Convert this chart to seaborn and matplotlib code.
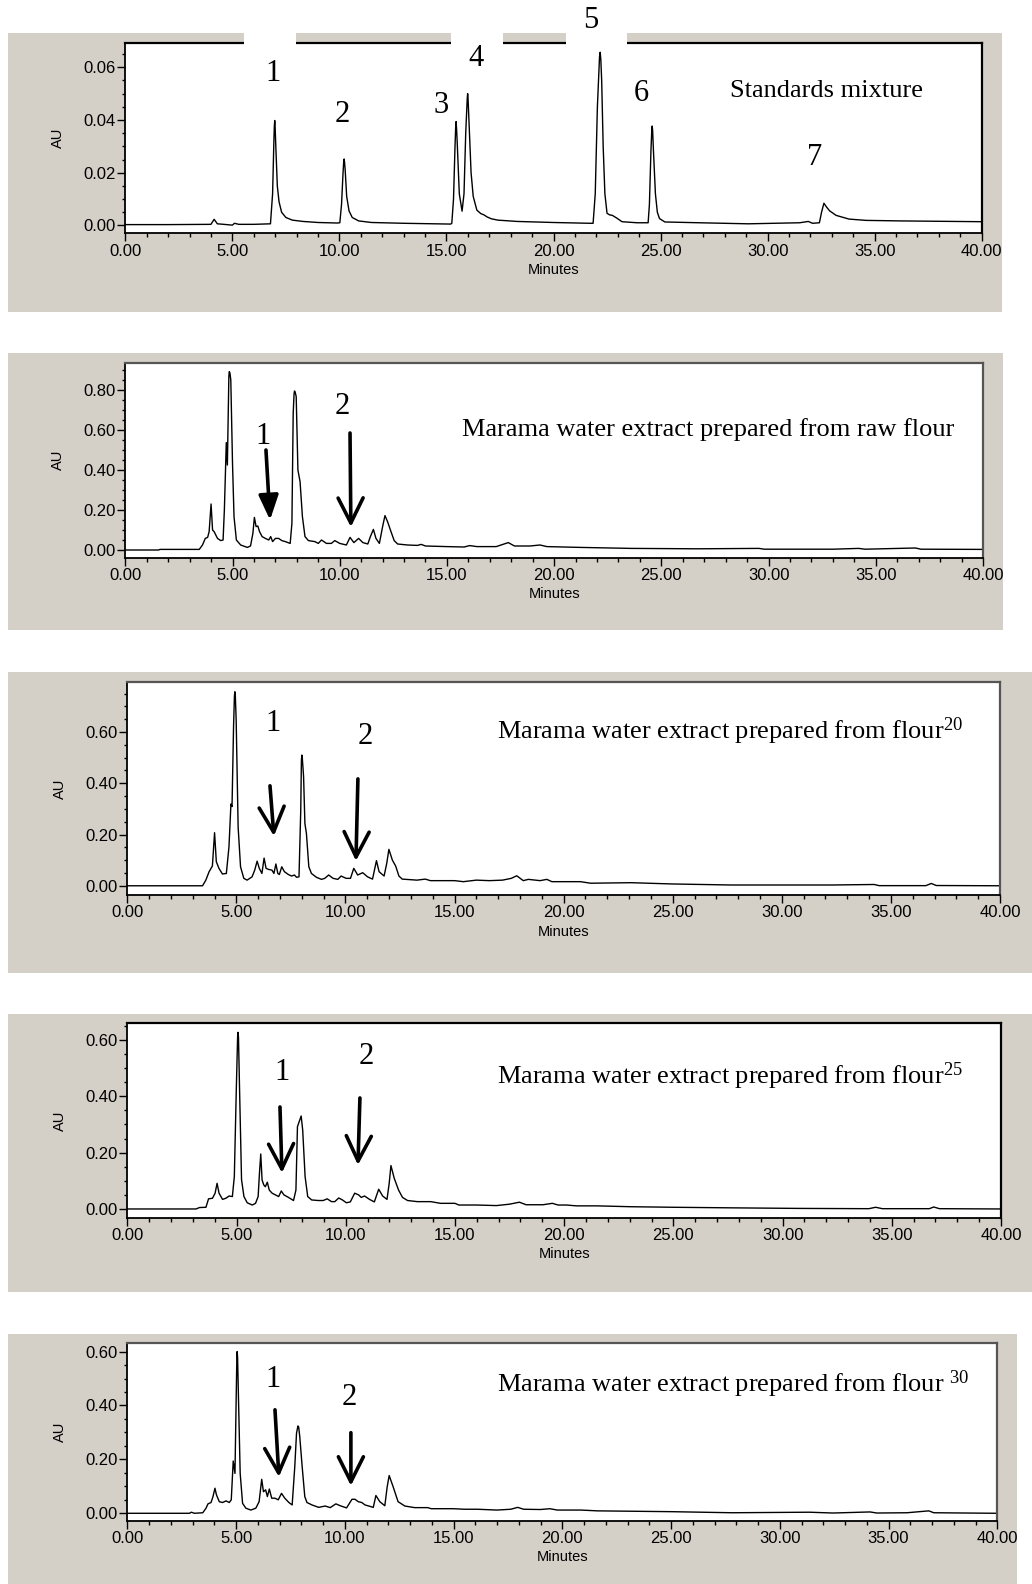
import numpy as np
import pandas as pd
import matplotlib
matplotlib.use("Agg")
import matplotlib.pyplot as plt
import seaborn as sns
from matplotlib.patches import Rectangle
from matplotlib.ticker import MultipleLocator, FormatStrFormatter

# ---------------- data ----------------
std_time = [0.0, 2.0, 4.0, 4.15, 4.3, 4.6, 5.0, 5.1, 5.3, 6.0, 6.78, 6.88, 6.94, 6.96, 6.98, 7.00, 7.03, 7.10,
            7.18, 7.30, 7.50, 7.80, 8.3, 9.0, 9.9, 10.02, 10.10, 10.17, 10.20, 10.22, 10.24, 10.27, 10.34,
            10.45, 10.6, 10.9, 11.5, 13.0, 15.2, 15.25, 15.33, 15.40, 15.43, 15.45, 15.47, 15.50, 15.60,
            15.73, 15.82, 15.90, 15.97, 15.99, 16.01, 16.05, 16.15, 16.25, 16.42, 16.6, 16.75, 16.9, 17.1,
            17.4, 18.3, 20.0, 21.7, 21.85, 21.95, 22.05, 22.15, 22.18, 22.21, 22.25, 22.32, 22.40, 22.50,
            22.62, 22.75, 22.95, 23.2, 23.9, 24.42, 24.48, 24.55, 24.59, 24.61, 24.63, 24.67, 24.76, 24.85,
            24.95, 25.2, 26.8, 29.1, 31.5, 31.9, 32.1, 32.42, 32.52, 32.63, 32.75, 32.9, 33.2, 33.8, 34.6,
            36.2, 40.0]
std_au = [0.0003, 0.0003, 0.0004, 0.0023, 0.0006, 0.0004, 0.0001, 0.0008, 0.0004, 0.0004, 0.0006, 0.012,
          0.032, 0.0375, 0.0398, 0.037, 0.030, 0.015, 0.009, 0.0050, 0.0030, 0.0020, 0.0015, 0.0011,
          0.0009, 0.0010, 0.008, 0.020, 0.024, 0.0252, 0.024, 0.021, 0.011, 0.0055, 0.0030, 0.0017,
          0.0011, 0.0008, 0.0005, 0.0008, 0.010, 0.030, 0.037, 0.0394, 0.037, 0.032, 0.012, 0.0054, 0.012,
          0.035, 0.048, 0.050, 0.048, 0.040, 0.020, 0.0110, 0.0058, 0.0045, 0.0040, 0.0032, 0.0025,
          0.0020, 0.0015, 0.0011, 0.0008, 0.0008, 0.012, 0.045, 0.064, 0.0657, 0.063, 0.055, 0.030, 0.012,
          0.0046, 0.0040, 0.0038, 0.0028, 0.0014, 0.0010, 0.0010, 0.008, 0.028, 0.036, 0.0377, 0.036,
          0.028, 0.012, 0.005, 0.0026, 0.0013, 0.0010, 0.0006, 0.0010, 0.0015, 0.0008, 0.0010, 0.005,
          0.0084, 0.0070, 0.0055, 0.0038, 0.0024, 0.0019, 0.0017, 0.0014]

raw_time = [0.0, 1.55, 1.62, 3.45, 3.6, 3.73, 3.84, 3.91, 4.00, 4.07, 4.14, 4.30, 4.45, 4.56, 4.62, 4.71,
            4.76, 4.83, 4.85, 4.88, 4.92, 5.00, 5.07, 5.18, 5.38, 5.69, 5.84, 5.95, 6.02, 6.10, 6.18, 6.26,
            6.38, 6.53, 6.69, 6.78, 6.87, 7.00, 7.15, 7.30, 7.46, 7.69, 7.77, 7.83, 7.87, 7.89, 7.92, 7.97,
            8.05, 8.15, 8.26, 8.38, 8.54, 8.84, 9.00, 9.15, 9.38, 9.61, 9.77, 10.00, 10.31, 10.48, 10.66,
            10.88, 11.08, 11.31, 11.43, 11.57, 11.69, 11.85, 12.00, 12.11, 12.23, 12.39, 12.54, 12.70,
            13.16, 13.62, 13.80, 14.00, 15.00, 15.80, 16.06, 16.40, 17.30, 17.86, 18.15, 18.87, 19.34,
            19.66, 21.2, 23.6, 26.7, 29.55, 29.8, 33.0, 34.2, 34.5, 36.85, 37.1, 40.0]
raw_au = [0.0, 0.0, 0.003, 0.003, 0.025, 0.058, 0.063, 0.092, 0.230, 0.100, 0.092, 0.058, 0.047, 0.050,
          0.200, 0.537, 0.425, 0.870, 0.892, 0.885, 0.850, 0.433, 0.167, 0.050, 0.025, 0.013, 0.020,
          0.083, 0.163, 0.117, 0.120, 0.092, 0.067, 0.058, 0.050, 0.067, 0.042, 0.058, 0.058, 0.047,
          0.042, 0.033, 0.133, 0.683, 0.780, 0.795, 0.790, 0.767, 0.400, 0.342, 0.167, 0.067, 0.047,
          0.042, 0.033, 0.050, 0.033, 0.033, 0.047, 0.033, 0.025, 0.063, 0.037, 0.058, 0.037, 0.030,
          0.067, 0.103, 0.058, 0.033, 0.117, 0.172, 0.142, 0.092, 0.047, 0.030, 0.025, 0.023, 0.028,
          0.020, 0.017, 0.015, 0.022, 0.017, 0.017, 0.037, 0.020, 0.020, 0.025, 0.017, 0.013, 0.008,
          0.006, 0.008, 0.004, 0.004, 0.008, 0.004, 0.010, 0.004, 0.003]

f20_time = [0.0, 3.45, 3.6, 3.75, 3.9, 4.0, 4.08, 4.2, 4.36, 4.54, 4.66, 4.75, 4.80, 4.87, 4.91, 4.93, 4.95,
            4.99, 5.08, 5.19, 5.34, 5.49, 5.72, 5.84, 5.95, 6.05, 6.17, 6.27, 6.36, 6.47, 6.63, 6.72, 6.81,
            6.90, 6.97, 7.08, 7.20, 7.38, 7.53, 7.66, 7.76, 7.87, 7.95, 7.98, 8.00, 8.02, 8.08, 8.14, 8.21,
            8.32, 8.44, 8.67, 8.90, 9.05, 9.23, 9.43, 9.65, 9.80, 10.03, 10.23, 10.38, 10.56, 10.79, 11.01,
            11.24, 11.42, 11.54, 11.77, 11.89, 11.99, 12.15, 12.30, 12.45, 12.60, 13.28, 13.66, 13.89,
            15.0, 15.4, 16.0, 16.6, 17.2, 17.6, 17.85, 18.15, 18.38, 18.92, 19.23, 19.46, 20.77, 21.23,
            23.08, 25.0, 27.7, 32.3, 34.23, 34.46, 36.6, 36.85, 37.08, 40.0]
f20_au = [0.0, 0.0, 0.022, 0.055, 0.077, 0.207, 0.094, 0.068, 0.046, 0.048, 0.152, 0.319, 0.309, 0.621,
          0.740, 0.757, 0.745, 0.646, 0.229, 0.074, 0.029, 0.022, 0.035, 0.061, 0.096, 0.068, 0.048,
          0.108, 0.068, 0.064, 0.061, 0.048, 0.085, 0.048, 0.044, 0.074, 0.055, 0.044, 0.038, 0.042,
          0.033, 0.035, 0.295, 0.490, 0.510, 0.500, 0.426, 0.243, 0.204, 0.074, 0.048, 0.033, 0.025,
          0.029, 0.042, 0.029, 0.025, 0.038, 0.029, 0.029, 0.068, 0.042, 0.051, 0.035, 0.026, 0.098,
          0.055, 0.038, 0.087, 0.142, 0.100, 0.077, 0.038, 0.026, 0.022, 0.026, 0.020, 0.020, 0.016,
          0.022, 0.020, 0.022, 0.029, 0.039, 0.020, 0.025, 0.020, 0.025, 0.016, 0.016, 0.010, 0.012,
          0.007, 0.003, 0.003, 0.005, 0.0005, 0.0005, 0.009, 0.001, 0.0]

f25_time = [0.0, 3.15, 3.3, 3.6, 3.72, 3.9, 4.02, 4.11, 4.20, 4.36, 4.51, 4.66, 4.81, 4.90, 4.99, 5.05, 5.07,
            5.09, 5.14, 5.23, 5.34, 5.49, 5.72, 5.87, 5.99, 6.05, 6.11, 6.17, 6.25, 6.32, 6.41, 6.50, 6.63,
            6.78, 6.93, 7.05, 7.17, 7.38, 7.61, 7.72, 7.79, 7.87, 7.96, 8.03, 8.14, 8.26, 8.44, 8.74, 8.97,
            9.15, 9.35, 9.50, 9.68, 9.85, 10.03, 10.21, 10.41, 10.59, 10.71, 10.86, 11.09, 11.31, 11.42,
            11.51, 11.69, 11.89, 11.99, 12.07, 12.22, 12.42, 12.60, 12.83, 13.28, 13.89, 14.34, 15.0,
            15.18, 16.0, 16.9, 17.5, 17.95, 18.26, 19.03, 19.46, 19.72, 20.1, 20.57, 21.5, 23.03, 25.0,
            27.65, 30.7, 33.95, 34.26, 34.57, 36.72, 36.92, 37.18, 40.0]
f25_au = [0.0, 0.0, 0.005, 0.006, 0.036, 0.038, 0.056, 0.091, 0.056, 0.034, 0.038, 0.046, 0.044, 0.115,
          0.423, 0.610, 0.627, 0.610, 0.423, 0.104, 0.044, 0.022, 0.014, 0.020, 0.044, 0.126, 0.195, 0.103,
          0.085, 0.079, 0.095, 0.067, 0.056, 0.050, 0.044, 0.064, 0.050, 0.041, 0.030, 0.067, 0.292,
          0.310, 0.330, 0.280, 0.115, 0.044, 0.032, 0.030, 0.030, 0.036, 0.026, 0.026, 0.039, 0.032,
          0.022, 0.025, 0.056, 0.050, 0.041, 0.046, 0.034, 0.025, 0.050, 0.070, 0.046, 0.034, 0.091,
          0.154, 0.109, 0.067, 0.041, 0.030, 0.026, 0.026, 0.020, 0.020, 0.014, 0.014, 0.012, 0.017,
          0.024, 0.015, 0.015, 0.020, 0.014, 0.014, 0.011, 0.011, 0.008, 0.006, 0.004, 0.002, 0.001,
          0.006, 0.001, 0.001, 0.007, 0.001, 0.0]

f30_time = [0.0, 2.86, 2.94, 3.09, 3.47, 3.62, 3.71, 3.85, 3.94, 4.03, 4.10, 4.23, 4.38, 4.54, 4.69, 4.78,
            4.87, 4.95, 5.02, 5.04, 5.05, 5.07, 5.11, 5.19, 5.30, 5.45, 5.68, 5.91, 6.06, 6.18, 6.26, 6.36,
            6.44, 6.53, 6.64, 6.79, 6.94, 7.09, 7.24, 7.43, 7.58, 7.70, 7.78, 7.83, 7.85, 7.88, 7.93, 8.04,
            8.16, 8.26, 8.49, 8.80, 9.10, 9.33, 9.59, 9.79, 10.08, 10.33, 10.47, 10.62, 10.78, 10.93, 11.31,
            11.43, 11.61, 11.84, 11.95, 12.04, 12.22, 12.45, 12.76, 13.21, 13.82, 13.97, 15.0, 15.49, 16.1,
            17.0, 17.63, 17.95, 18.22, 18.99, 19.43, 19.77, 20.85, 21.62, 25.0, 27.8, 31.36, 32.45, 34.15,
            34.46, 35.85, 36.85, 37.08, 40.0]
f30_au = [0.0, 0.0, 0.004, 0.0, 0.002, 0.019, 0.035, 0.040, 0.062, 0.093, 0.068, 0.043, 0.040, 0.046,
          0.040, 0.050, 0.194, 0.148, 0.495, 0.590, 0.600, 0.580, 0.433, 0.148, 0.037, 0.019, 0.012, 0.019,
          0.043, 0.126, 0.080, 0.087, 0.062, 0.090, 0.056, 0.056, 0.050, 0.074, 0.056, 0.040, 0.031,
          0.173, 0.297, 0.318, 0.324, 0.320, 0.284, 0.173, 0.062, 0.040, 0.031, 0.022, 0.027, 0.021,
          0.035, 0.028, 0.020, 0.052, 0.052, 0.043, 0.040, 0.031, 0.022, 0.066, 0.043, 0.028, 0.099,
          0.140, 0.099, 0.043, 0.027, 0.021, 0.021, 0.017, 0.017, 0.015, 0.015, 0.012, 0.015, 0.022,
          0.015, 0.014, 0.017, 0.012, 0.012, 0.009, 0.006, 0.002, 0.004, 0.001, 0.005, 0.001, 0.002,
          0.009, 0.002, 0.0]

x_ticks = [0, 5, 10, 15, 20, 25, 30, 35, 40]
std_yticks = [0.00, 0.02, 0.04, 0.06]
raw_yticks = [0.00, 0.20, 0.40, 0.60, 0.80]
f_yticks = [0.00, 0.20, 0.40, 0.60]

titles = ["Standards mixture",
          "Marama water extract prepared from raw flour",
          r"Marama water extract prepared from flour$^{\mathrm{20}}$",
          r"Marama water extract prepared from flour$^{\mathrm{25}}$",
          r"Marama water extract prepared from flour $^{\mathrm{30}}$"]

# ---------------- style ----------------
sns.set_theme(style="ticks")
plt.rcParams["font.family"] = ["Liberation Sans", "DejaVu Sans"]
plt.rcParams["mathtext.fontset"] = "custom"
plt.rcParams["mathtext.rm"] = "Liberation Serif"
plt.rcParams["mathtext.it"] = "Liberation Serif:italic"

W, H = 1032, 1584
fig = plt.figure(figsize=(W / 100, H / 100), dpi=100)
fig.patch.set_facecolor("white")
GRAY = "#D4D0C8"
SERIF = ["Liberation Serif", "DejaVu Serif"]


def frac_rect(x0, y0, x1, y1):
    return [x0 / W, 1 - y1 / H, (x1 - x0) / W, (y1 - y0) / H]


def add_box(x0, y0, x1, y1, color, z):
    l, b, w, h = frac_rect(x0, y0, x1, y1)
    fig.add_artist(Rectangle((l, b), w, h, transform=fig.transFigure,
                             facecolor=color, edgecolor="none", zorder=z))


panels = [
    dict(gray=(8, 33, 1002, 312), ax=(125.3, 43.3, 981.7, 233.3), ylim=(-0.0030, 0.0691),
         yt=std_yticks, ym=0.005, t=std_time, v=std_au, sc="black"),
    dict(gray=(8, 353, 1003, 630), ax=(125.3, 362.7, 983, 557.7), ylim=(-0.0385, 0.9365),
         yt=raw_yticks, ym=0.05, t=raw_time, v=raw_au, sc="#555555"),
    dict(gray=(8, 672, 1032, 973), ax=(127.3, 682, 1000, 895), ylim=(-0.036, 0.795),
         yt=f_yticks, ym=0.05, t=f20_time, v=f20_au, sc="#555555"),
    dict(gray=(8, 1014, 1032, 1292), ax=(127.3, 1023.3, 1001, 1217.7), ylim=(-0.031, 0.659),
         yt=f_yticks, ym=0.05, t=f25_time, v=f25_au, sc="black"),
    dict(gray=(8, 1334, 1017, 1584), ax=(127.3, 1342.7, 997.3, 1520.7), ylim=(-0.0275, 0.633),
         yt=f_yticks, ym=0.05, t=f30_time, v=f30_au, sc="#555555"),
]

axes = []
for p in panels:
    add_box(*p["gray"], GRAY, -10)
    ax = fig.add_axes(frac_rect(*p["ax"]))
    ax.set_facecolor("white")
    df = pd.DataFrame({"Minutes": p["t"], "AU": p["v"]})
    sns.lineplot(data=df, x="Minutes", y="AU", ax=ax, color="black", lw=1.0,
                 estimator=None, sort=True)
    ax.set_xlim(0, 40)
    ax.set_ylim(*p["ylim"])
    ax.set_xticks(x_ticks)
    ax.set_yticks(p["yt"])
    ax.xaxis.set_minor_locator(MultipleLocator(1))
    ax.yaxis.set_minor_locator(MultipleLocator(p["ym"]))
    ax.xaxis.set_major_formatter(FormatStrFormatter("%.2f"))
    ax.yaxis.set_major_formatter(FormatStrFormatter("%.2f"))
    ax.tick_params(axis="both", which="both", direction="out", color="black", width=1.0,
                   labelsize=12, labelcolor="black")
    ax.tick_params(axis="y", which="major", length=6, pad=1)
    ax.tick_params(axis="y", which="minor", length=2.5)
    ax.tick_params(axis="x", which="major", length=5.5, pad=2)
    ax.tick_params(axis="x", which="minor", length=3)
    for side in ["left", "bottom"]:
        ax.spines[side].set_color("black")
        ax.spines[side].set_linewidth(1.3)
    for side in ["top", "right"]:
        ax.spines[side].set_color(p["sc"])
        ax.spines[side].set_linewidth(1.6)
    ax.set_xlabel("Minutes", fontsize=10.5, labelpad=3, color="black")
    ax.set_ylabel("AU", fontsize=10.5, labelpad=13, color="black")
    axes.append(ax)

# ---------------- annotations ----------------
lab_kw = dict(fontsize=22, family=SERIF, ha="center", va="center", color="black", clip_on=False)
title_kw = dict(fontsize=19, family=SERIF, va="center", color="black")

# panel 1: standards
ax = axes[0]
std_labels = [("1", 6.9, 0.0578), ("2", 10.12, 0.0419), ("3", 14.75, 0.0456), ("4", 16.38, 0.0632),
              ("5", 21.75, 0.0776), ("6", 24.09, 0.0502), ("7", 32.2, 0.0259)]
for s, x, y in std_labels:
    ax.text(x, y, s, zorder=20, **lab_kw)
ax.text(32.73, 0.051, titles[0], ha="center", **title_kw)
# white gaps around labels that cross the top frame
for gx0, gx1 in [(244, 296), (451, 503), (566, 627)]:
    add_box(gx0, 31, gx1, 45, "white", 10)

arrow_v = dict(arrowstyle="->,head_width=0.45,head_length=0.9", lw=2.6, color="black",
               shrinkA=0, shrinkB=0, mutation_scale=20)
arrow_f = dict(arrowstyle="-|>,head_width=0.3,head_length=0.75", lw=2.6, color="black",
               shrinkA=0, shrinkB=0, mutation_scale=20)

ann = [
    (1, (27.18, 0.60), "center", (6.42, 0.565), (10.1, 0.715),
     ((6.56, 0.50), (6.75, 0.15), arrow_f), ((10.48, 0.585), (10.52, 0.115), arrow_v)),
    (2, (16.94, 0.604), "left", (6.68, 0.632), (10.89, 0.581),
     ((6.54, 0.39), (6.72, 0.194), arrow_v), ((10.57, 0.417), (10.48, 0.097), arrow_v)),
    (3, (16.93, 0.472), "left", (7.08, 0.486), (10.93, 0.54),
     ((6.99, 0.362), (7.08, 0.128), arrow_v), ((10.65, 0.394), (10.56, 0.156), arrow_v)),
    (4, (17.0, 0.477), "left", (6.7, 0.495), (10.19, 0.428),
     ((6.79, 0.384), (6.97, 0.135), arrow_v), ((10.28, 0.299), (10.28, 0.102), arrow_v)),
]
for i, tpos, ha, l1, l2, a1, a2 in ann:
    ax = axes[i]
    ax.text(tpos[0], tpos[1], titles[i], ha=ha, **title_kw)
    ax.text(l1[0], l1[1], "1", **lab_kw)
    ax.text(l2[0], l2[1], "2", **lab_kw)
    for tail, tip, style in (a1, a2):
        ax.annotate("", xy=tip, xytext=tail, arrowprops=style)

fig.savefig("out.png", dpi=100, facecolor="white")
